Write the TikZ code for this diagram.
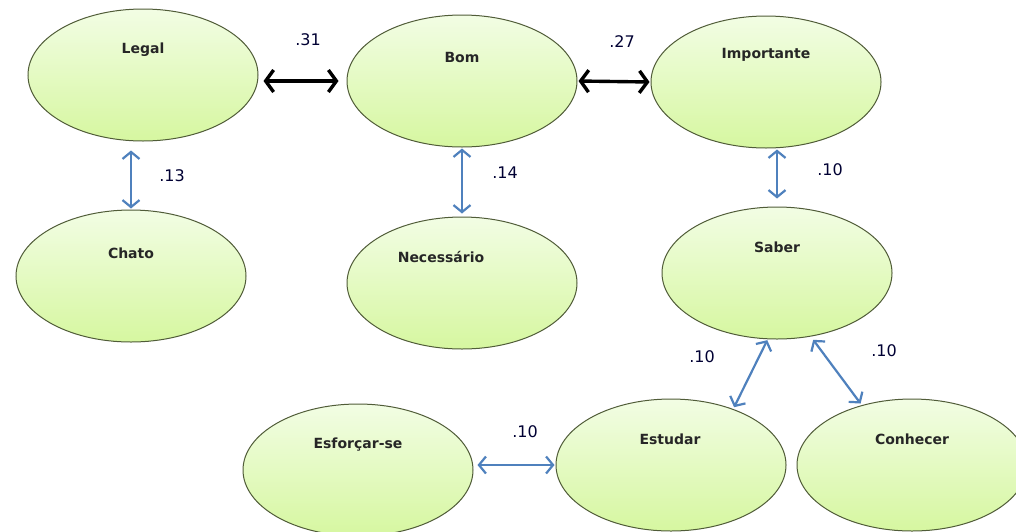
\documentclass[tikz,border=0pt]{standalone}
\usepackage{fontspec}
\setmainfont{DejaVu Sans}
\usetikzlibrary{shapes.geometric, arrows.meta}

\definecolor{nodetop}{RGB}{242,253,228}
\definecolor{nodebot}{RGB}{214,247,160}
\definecolor{nodeline}{RGB}{80,92,56}
\definecolor{linkblue}{RGB}{79,129,189}

\begin{document}
\begin{tikzpicture}[
    x=1pt, y=-1pt,
    concept/.style={ellipse, draw=nodeline, line width=1pt, top color=nodetop, bottom color=nodebot, minimum width=230pt, minimum height=132pt, inner sep=0pt},
    word/.style={font=\bfseries\fontsize{14}{16}\selectfont, text=black!85},
    weight/.style={font=\fontsize{16}{18}\selectfont, text=black!80!blue},
    link/.style={{Straight Barb[length=7pt, width=17pt]}-{Straight Barb[length=7pt, width=17pt]}, draw=linkblue, line width=2.2pt},
    strong/.style={{Straight Barb[length=8pt, width=22pt]}-{Straight Barb[length=8pt, width=22pt]}, draw=black, line width=3.4pt}
]
\useasboundingbox[fill=white] (0,0) rectangle (1016,531);

% Linha de cima
\node[concept] (legal) at (143,75) {};
\node[word] (legal-t) at (143,50) {Legal};

\node[concept] (bom) at (462,81) {};
\node[word] (bom-t) at (462,57) {Bom};

\node[concept] (importante) at (766,82) {};
\node[word] (importante-t) at (766,55) {Importante};

% Linha do meio
\node[concept] (chato) at (131,276) {};
\node[word] (chato-t) at (131,253) {Chato};

\node[concept] (necessario) at (462,283) {};
\node[word] (necessario-t) at (441,257) {Necessário};

\node[concept] (saber) at (777,273) {};
\node[word] (saber-t) at (777,247) {Saber};

% Linha de baixo
\node[concept] (esforcar) at (358,470) {};
\node[word] (esforcar-t) at (358,445) {Esforçar-se};

\node[concept] (estudar) at (671,465) {};
\node[word] (estudar-t) at (670,439) {Estudar};

\node[concept] (conhecer) at (912,465) {};
\node[word] (conhecer-t) at (912,439) {Conhecer};

% Setas
\draw[strong, shorten <=5pt, shorten >=8pt] (legal.east |- bom.west) -- (bom.west);
\draw[strong, shorten <=1pt, shorten >=1pt] (bom.east) -- (importante.west);

\draw[link, shorten <=9pt, shorten >=1pt] (chato.north |- legal.south) -- (chato.north);
\draw[link, shorten <=1pt, shorten >=3pt] (bom.south) -- (necessario.north);
\draw[link, shorten <=1pt, shorten >=8pt] (saber.north |- importante.south) -- (saber.north);

\draw[link, shorten <=2pt, shorten >=1pt] (estudar.42) -- (saber.-98);
\draw[link, shorten <=4pt, shorten >=2pt] (saber.-62) -- (conhecer.130);
\draw[link, shorten <=4pt, shorten >=1pt] (esforcar.east |- estudar.west) -- (estudar.west);

% Pesos
\node[weight] (w31) at (308,40) {.31};
\node[weight] (w27) at (622,42) {.27};
\node[weight] (w13) at (172,176) {.13};
\node[weight] (w14) at (505,173) {.14};
\node[weight] (w10a) at (830,170) {.10};
\node[weight] (w10b) at (702,357) {.10};
\node[weight] (w10c) at (884,351) {.10};
\node[weight] (w10d) at (525,432) {.10};

\end{tikzpicture}
\end{document}
